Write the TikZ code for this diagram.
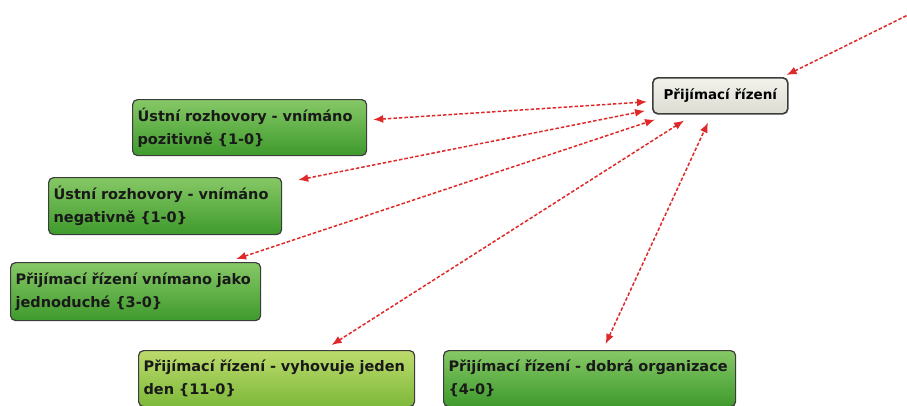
\documentclass[tikz,border=0pt]{standalone}
\usepackage{fontspec}
\setmainfont{DejaVu Sans}
\usetikzlibrary{arrows.meta,calc}
\definecolor{gtop}{HTML}{86C866}
\definecolor{gbot}{HTML}{3E9A2C}
\definecolor{ltop}{HTML}{BCDB6C}
\definecolor{lbot}{HTML}{7DB83A}
\definecolor{ctop}{HTML}{F2F2EC}
\definecolor{cbot}{HTML}{DCDCD2}
\definecolor{conncol}{HTML}{E02828}
\definecolor{bordercol}{HTML}{3C3C3C}
\tikzset{
  box/.style={draw=bordercol, line width=1.2pt, rounded corners=5pt, anchor=north west,
    inner sep=5pt, align=left, font=\fontsize{14.5}{23}\selectfont\bfseries, text=black!90},
  greenbox/.style={box, top color=gtop, bottom color=gbot},
  limebox/.style={box, top color=ltop, bottom color=lbot},
  centerbox/.style={box, top color=ctop, bottom color=cbot, line width=1.6pt,
    font=\fontsize{13.5}{16}\selectfont\bfseries, text=black},
  conn/.style={draw=conncol, line width=1.5pt, dash pattern=on 3.5pt off 2pt,
    {Latex[length=10pt,width=8pt]}-{Latex[length=10pt,width=8pt]}},
  conn1/.style={draw=conncol, line width=1.5pt, dash pattern=on 3.5pt off 2pt,
    {Latex[length=10pt,width=8pt]}-}
}
\begin{document}
\begin{tikzpicture}[x=1pt,y=-1pt]
\useasboundingbox (0,0) rectangle (907,405);
\clip (0,0) rectangle (907,405);
\node[centerbox, minimum width=135pt, minimum height=36pt] (c) at (652,77) {Přijímací řízení};
\node[greenbox, minimum width=234pt, minimum height=56pt, text width=224pt] (g1) at (132,99)
  {Ústní rozhovory - vnímáno\\pozitivně \{1-0\}};
\node[greenbox, minimum width=233pt, minimum height=57pt, text width=223pt] (g2) at (48,177)
  {Ústní rozhovory - vnímáno\\negativně \{1-0\}};
\node[greenbox, minimum width=250pt, minimum height=58pt, text width=240pt] (g3) at (10,262)
  {Přijímací řízení vnímano jako\\jednoduché \{3-0\}};
\node[limebox, minimum width=276pt, minimum height=56pt, text width=266pt] (g4) at (138,350)
  {Přijímací řízení - vyhovuje jeden\\den \{11-0\}};
\node[greenbox, minimum width=292pt, minimum height=56pt, text width=282pt] (g5) at (443,350)
  {Přijímací řízení - dobrá organizace\\\{4-0\}};
\coordinate (far) at (920,9);
\draw[conn] ($(g1.east)+(6,-8)$) -- ($(c.west)+(-5,6)$);
\draw[conn] ($(g2.north east)+(16,3)$) -- ($(c.west)+(-7,15)$);
\draw[conn] ($(g3.north east)+(-25,-3)$) -- ($(c.south west)+(3,5)$);
\draw[conn] ($(g4.north)+(55,-5)$) -- ($(c.south west)+(32,6)$);
\draw[conn] ($(g5.north)+(16,-6)$) -- ($(c.south west)+(56,8)$);
\draw[conn1] ($(c.north east)+(-2,-2)$) -- (far);
\end{tikzpicture}
\end{document}
